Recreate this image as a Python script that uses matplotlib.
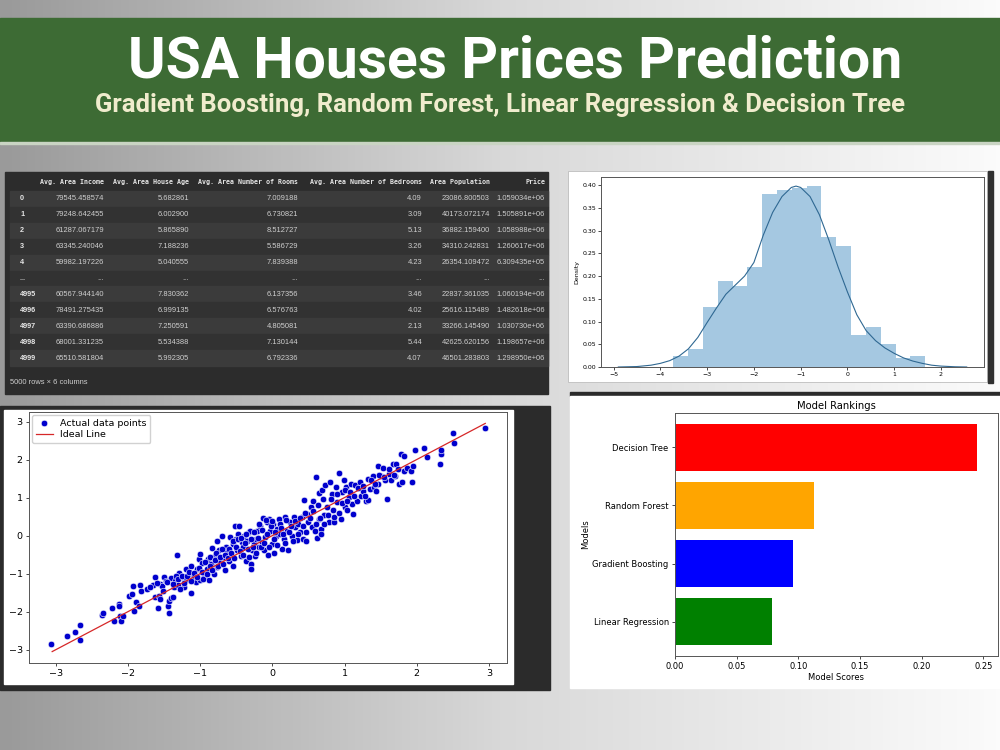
import numpy as np
import matplotlib
matplotlib.use('Agg')
import matplotlib.pyplot as plt
from matplotlib.patches import Rectangle

W, H = 1000, 750

# ── Text ──────────────────────────────────────────────────────────────────────
TITLE = "USA Houses Prices Prediction"
SUBTITLE = "Gradient Boosting, Random Forest, Linear Regression & Decision Tree"

# ── Table (df preview) ────────────────────────────────────────────────────────
tbl_cols = ["Avg. Area Income", "Avg. Area House Age", "Avg. Area Number of Rooms",
            "Avg. Area Number of Bedrooms", "Area Population", "Price"]
tbl_index = ["0", "1", "2", "3", "4", "...", "4995", "4996", "4997", "4998", "4999"]
income = [79545.458574, 79248.642455, 61287.067179, 63345.240046, 59982.197226, None,
          60567.944140, 78491.275435, 63390.686886, 68001.331235, 65510.581804]
house_age = [5.682861, 6.002900, 5.865890, 7.188236, 5.040555, None,
             7.830362, 6.999135, 7.250591, 5.534388, 5.992305]
rooms = [7.009188, 6.730821, 8.512727, 5.586729, 7.839388, None,
         6.137356, 6.576763, 4.805081, 7.130144, 6.792336]
bedrooms = [4.09, 3.09, 5.13, 3.26, 4.23, None, 3.46, 4.02, 2.13, 5.44, 4.07]
population = [23086.800503, 40173.072174, 36882.159400, 34310.242831, 26354.109472, None,
              22837.361035, 25616.115489, 33266.145490, 42625.620156, 46501.283803]
price = [1.059034e6, 1.505891e6, 1.058988e6, 1.260617e6, 6.309435e5, None,
         1.060194e6, 1.482618e6, 1.030730e6, 1.198657e6, 1.298950e6]
tbl_footer = "5000 rows × 6 columns"

# ── Histogram + KDE ───────────────────────────────────────────────────────────
hist_edges = [-3.72, -3.40, -3.09, -2.77, -2.45, -2.14, -1.82, -1.51, -1.19,
              -0.87, -0.56, -0.24, 0.08, 0.39, 0.71, 1.03, 1.34, 1.66]
hist_heights = [0.025, 0.040, 0.133, 0.190, 0.178, 0.220, 0.380, 0.390, 0.393,
                0.398, 0.285, 0.266, 0.070, 0.089, 0.050, 0.020, 0.025]
kde_x = [-4.9, -4.5, -4.2, -4.0, -3.8, -3.6, -3.4, -3.2, -3.0, -2.8, -2.6, -2.4,
         -2.2, -2.0, -1.8, -1.6, -1.4, -1.2, -1.1, -1.0, -0.8, -0.6, -0.4, -0.2,
         0.0, 0.2, 0.4, 0.6, 0.8, 1.0, 1.2, 1.4, 1.6, 1.8, 2.0, 2.3, 2.55]
kde_y = [0.000, 0.001, 0.004, 0.008, 0.014, 0.024, 0.040, 0.065, 0.098, 0.130, 0.160, 0.180,
         0.200, 0.230, 0.290, 0.340, 0.375, 0.395, 0.398, 0.395, 0.375, 0.335, 0.280, 0.220,
         0.165, 0.115, 0.080, 0.058, 0.042, 0.030, 0.020, 0.013, 0.008, 0.004, 0.002, 0.0005, 0.0]

# ── Actual vs predicted scatter ───────────────────────────────────────────────
pts = [
    (-3.07, -2.85), (-2.84, -2.63), (-2.74, -2.53), (-2.67, -2.35), (-2.66, -2.75),
    (-2.36, -2.08), (-2.35, -2.03), (-2.22, -1.90), (-2.19, -2.24), (-2.13, -1.80),
    (-2.12, -1.85), (-2.11, -2.12), (-2.09, -2.25), (-2.07, -2.12), (-1.99, -1.58),
    (-1.94, -1.54), (-1.93, -1.32), (-1.92, -1.97), (-1.89, -1.75), (-1.85, -1.86),
    (-1.83, -1.29), (-1.82, -1.46), (-1.73, -1.40), (-1.65, -1.30), (-1.63, -1.10),
    (-1.62, -1.61), (-1.57, -1.58), (-1.58, -1.91), (-1.55, -1.68), (-1.56, -1.27),
    (-1.53, -1.32), (-1.50, -1.08), (-1.47, -1.19), (-1.45, -1.85), (-1.43, -2.04),
    (-1.43, -1.73), (-1.41, -1.11), (-1.40, -1.63), (-1.37, -1.61), (-1.36, -1.34),
    (-1.35, -1.20), (-1.32, -0.50), (-1.31, -1.30), (-1.29, -0.99), (-1.25, -1.10),
    (-1.23, -1.34), (-1.20, -1.18), (-1.19, -0.88), (-1.16, -1.01), (-1.13, -1.52),
    (-1.12, -0.79), (-1.09, -1.10), (-1.06, -1.23), (-1.04, -0.88), (-1.02, -0.61),
    (-1.00, -1.18), (-1.00, -0.48), (-0.97, -0.73), (-0.95, -0.96), (-0.94, -1.10),
    (-0.91, -0.88), (-0.89, -0.61), (-0.88, -1.17), (-0.85, -0.75), (-0.83, -0.33),
    (-0.81, -1.01), (-0.79, -0.53), (-0.77, -0.83), (-0.76, -0.15), (-0.74, -0.39),
    (-0.72, -0.70), (-0.70, 0.00), (-0.68, -0.57), (-0.66, -0.90), (-0.64, -0.29),
    (-0.63, -0.44), (-0.60, -0.66), (-0.58, -0.03), (-0.55, -0.79), (-0.54, -0.22),
    (-0.52, 0.25), (-0.51, -0.09), (-0.49, -0.39), (-0.47, 0.04), (-0.46, 0.25),
    (-0.44, -0.53), (-0.42, -0.18), (-0.41, -0.31), (-0.39, 0.00), (-0.37, -0.66),
    (-0.35, -0.13), (-0.33, 0.09), (-0.31, 0.13), (-0.30, -0.75), (-0.29, -0.89),
    (-0.28, -0.39), (-0.26, -0.22), (-0.24, -0.53), (-0.22, -0.09), (-0.21, 0.13),
    (-0.19, -0.31), (-0.17, 0.26), (-0.15, -0.18), (-0.13, 0.46), (-0.12, -0.39),
    (-0.10, -0.04), (-0.08, 0.35), (-0.06, -0.52), (-0.05, 0.44), (-0.03, 0.13),
    (-0.005, -0.22), (0.01, 0.31), (0.03, -0.46), (0.05, 0.00), (0.06, 0.18),
    (0.09, 0.44), (0.11, 0.04), (0.13, -0.36), (0.16, -0.09), (0.18, 0.48),
    (0.20, 0.13), (0.22, -0.37), (0.25, 0.35), (0.27, 0.00), (0.30, 0.50),
    (0.32, 0.22), (0.34, -0.11), (0.36, 0.31), (0.39, 0.09), (0.41, 0.48),
    (0.43, -0.09), (0.44, 0.94), (0.46, -0.15), (0.48, 0.57), (0.50, 0.35),
    (0.53, 0.75), (0.55, 0.22), (0.57, 0.90), (0.59, 0.13), (0.61, 1.55),
    (0.62, -0.06), (0.64, 0.44), (0.65, 1.11), (0.67, 0.18), (0.68, 0.04),
    (0.69, 1.20), (0.71, 0.53), (0.73, 1.34), (0.76, 0.76), (0.78, 0.35),
    (0.80, 1.40), (0.82, 1.10), (0.84, 0.66), (0.86, 0.35), (0.88, 1.27),
    (0.90, 0.88), (0.93, 1.64), (0.95, 0.44), (0.96, 1.14), (0.99, 1.45),
    (1.01, 0.75), (1.02, 1.27), (1.04, 0.66), (1.06, 1.01), (1.09, 1.36),
    (1.11, 0.83), (1.12, 0.57), (1.15, 1.34), (1.17, 0.92), (1.21, 1.40),
    (1.23, 1.05), (1.26, 1.18), (1.30, 0.92), (1.32, 0.94), (1.33, 1.49),
    (1.35, 1.23), (1.39, 1.58), (1.41, 1.27), (1.44, 1.18), (1.46, 1.82),
    (1.47, 1.36), (1.50, 1.58), (1.53, 1.78), (1.56, 1.45), (1.59, 0.95),
    (1.61, 1.62), (1.64, 1.46), (1.67, 1.87), (1.70, 1.58), (1.72, 1.89),
    (1.75, 1.36), (1.78, 2.15), (1.79, 1.40), (1.82, 1.71), (1.83, 2.08),
    (1.87, 1.77), (1.92, 1.71), (1.93, 1.42), (1.95, 1.83), (1.97, 2.24),
    (2.10, 2.30), (2.14, 2.06), (2.32, 1.89), (2.33, 2.15), (2.33, 2.24),
    (2.50, 2.71), (2.52, 2.43), (2.95, 2.84),
    # denser band around the diagonal
    (-1.70, -1.35), (-1.60, -1.25), (-1.52, -1.45), (-1.46, -1.22), (-1.38, -1.28),
    (-1.34, -1.05), (-1.30, -1.15), (-1.28, -1.40), (-1.25, -1.05), (-1.22, -1.25),
    (-1.18, -1.05), (-1.15, -0.95), (-1.12, -1.20), (-1.08, -0.98), (-1.05, -1.10),
    (-1.02, -0.85), (-0.98, -0.95), (-0.96, -1.15), (-0.93, -0.70), (-0.90, -1.00),
    (-0.87, -0.80), (-0.86, -0.55), (-0.83, -0.90), (-0.80, -0.65), (-0.78, -0.45),
    (-0.75, -0.80), (-0.73, -0.55), (-0.70, -0.35), (-0.69, -0.75), (-0.66, -0.50),
    (-0.62, -0.60), (-0.60, -0.35), (-0.57, -0.45), (-0.55, -0.15), (-0.53, -0.60),
    (-0.50, -0.30), (-0.48, -0.10), (-0.45, -0.40), (-0.43, -0.05), (-0.40, -0.50),
    (-0.38, -0.20), (-0.36, 0.05), (-0.34, -0.35), (-0.32, -0.55), (-0.30, -0.10),
    (-0.27, -0.30), (-0.25, 0.10), (-0.23, -0.45), (-0.20, -0.05), (-0.18, 0.30),
    (-0.16, -0.30), (-0.14, 0.15), (-0.11, -0.20), (-0.09, 0.40), (-0.07, 0.05),
    (-0.04, -0.30), (-0.02, 0.25), (0.00, 0.38), (0.02, -0.10), (0.04, 0.10),
    (0.07, -0.25), (0.10, 0.30), (0.12, 0.20), (0.15, 0.05), (0.17, -0.20),
    (0.19, 0.40), (0.23, 0.10), (0.26, 0.25), (0.28, -0.15), (0.31, 0.38),
    (0.35, 0.05), (0.38, 0.45), (0.42, 0.25), (0.45, 0.60), (0.47, 0.10),
    (0.52, 0.45), (0.56, 0.65), (0.60, 0.30), (0.63, 0.80), (0.66, 0.45),
    (0.70, 0.95), (0.72, 0.30), (0.77, 0.55), (0.81, 0.95), (0.85, 0.50),
    (0.89, 1.10), (0.92, 0.60), (0.97, 0.85), (1.00, 1.20), (1.03, 0.90),
    (1.08, 1.15), (1.13, 1.05), (1.18, 1.25), (1.25, 1.30), (1.28, 1.05),
    (1.36, 1.45), (1.42, 1.35), (1.48, 1.60), (1.55, 1.55), (1.62, 1.75),
    (1.68, 1.60), (1.74, 1.75),
]
actual = [p[0] for p in pts]
predicted = [p[1] for p in pts]
ideal = [-3.05, 2.95]

# ── Model rankings ────────────────────────────────────────────────────────────
models = ["Linear Regression", "Gradient Boosting", "Random Forest", "Decision Tree"]
scores = [0.079, 0.096, 0.113, 0.245]
bar_colors = ["green", "blue", "orange", "red"]


def box(x0, y0, x1, y1):
    return [x0 / W, 1 - y1 / H, (x1 - x0) / W, (y1 - y0) / H]


fig = plt.figure(figsize=(10, 7.5), dpi=100)

# background canvas in pixel coords
bg = fig.add_axes([0, 0, 1, 1], zorder=0)
bg.set_xlim(0, W); bg.set_ylim(H, 0); bg.axis('off')
grad = np.linspace(0, 1, 256)[None, :]
bg.imshow(grad, cmap=matplotlib.colors.LinearSegmentedColormap.from_list(
    'g', ['#9a9a9a', '#d8d8d8', '#fbfbfb']), extent=[0, W, H, 0], aspect='auto')

# banner
bg.add_patch(Rectangle((0, 18), W, 124, color='#3d6b34'))
bg.add_patch(Rectangle((0, 142), W, 2, color='#c9d4c3'))
bg.text(515, 62, TITLE, ha='center', va='center', color='white',
        fontsize=41, fontweight='bold', family='Roboto')
bg.text(500, 105, SUBTITLE, ha='center', va='center', color='#f0eccd',
        fontsize=18.5, fontweight='bold', family='Roboto')

# ── table panel ───────────────────────────────────────────────────────────────
bg.add_patch(Rectangle((5, 172), 543, 222, color='#2c2c2c'))
row_y0, row_h = 199, 15.9
for i in range(len(tbl_index)):
    c = '#3b3b3b' if i % 2 == 0 else '#323232'
    bg.add_patch(Rectangle((10, row_y0 + i * row_h - row_h / 2), 538, row_h, color=c))

col_right = [104, 189, 298, 422, 490, 545]
fmts = ["{:.6f}", "{:.6f}", "{:.6f}", "{:.2f}", "{:.6f}", "{:e}"]
columns = [income, house_age, rooms, bedrooms, population, price]
for cx, name in zip(col_right, tbl_cols):
    bg.text(cx, 182, name, ha='right', va='center', color='#e6e6e6',
            fontsize=4.8, fontweight='bold', family='DejaVu Sans Mono')
for i, idx in enumerate(tbl_index):
    y = row_y0 + i * row_h
    bg.text(20, y, idx, ha='left', va='center', color='#e6e6e6',
            fontsize=5.2, fontweight='bold', family='Liberation Sans')
    for cx, vals, f in zip(col_right, columns, fmts):
        v = vals[i]
        s = "..." if v is None else f.format(v)
        bg.text(cx, y, s, ha='right', va='center', color='#cfcfcf',
                fontsize=5.4, family='Liberation Sans')
bg.text(10, 382, tbl_footer, ha='left', va='center', color='#cfcfcf',
        fontsize=5.4, family='Liberation Sans')

# ── histogram panel ───────────────────────────────────────────────────────────
bg.add_patch(Rectangle((568, 171), 419, 211, facecolor='white', edgecolor='#bdbdbd', lw=0.6))
bg.add_patch(Rectangle((988, 171), 5, 212, color='#303030'))
ax1 = fig.add_axes(box(601, 177, 984, 367), zorder=2)
ax1.bar(hist_edges[:-1], hist_heights, width=np.diff(hist_edges), align='edge',
        color='#1f77b4', alpha=0.4, linewidth=0)
ax1.plot(kde_x, kde_y, color='#2f6892', lw=0.8)
ax1.set_xlim(-5.27, 2.92); ax1.set_ylim(0, 0.418)
ax1.set_yticks(np.arange(0, 0.41, 0.05))
ax1.set_yticklabels([f"{t:.2f}" for t in np.arange(0, 0.41, 0.05)])
ax1.set_ylabel('Density', fontsize=4.5, labelpad=2)
ax1.tick_params(labelsize=4.5, length=2, width=0.5, pad=1.5)
for s in ax1.spines.values():
    s.set_linewidth(0.7); s.set_color('#555555')

# ── scatter panel ─────────────────────────────────────────────────────────────
bg.add_patch(Rectangle((0, 406), 550, 284, color='#2b2b2b'))
bg.add_patch(Rectangle((4, 410), 509, 274, color='white'))
ax2 = fig.add_axes(box(29, 412, 507, 663), zorder=2)
ax2.scatter(actual, predicted, s=22, color='mediumblue', edgecolors='white',
            linewidths=0.4, label='Actual data points', zorder=2)
ax2.plot(ideal, ideal, color='#d62728', lw=0.9, label='Ideal Line', zorder=3)
ax2.set_xticks(range(-3, 4)); ax2.set_yticks(range(-3, 4))
ax2.tick_params(labelsize=6.8, length=2.5, width=0.5, pad=2)
for s in ax2.spines.values():
    s.set_linewidth(0.7); s.set_color('#555555')
ax2.legend(loc='upper left', fontsize=6.8, borderaxespad=0.3, handlelength=1.8,
           labelspacing=0.3, framealpha=0.9)

# ── rankings panel ────────────────────────────────────────────────────────────
bg.add_patch(Rectangle((570, 392), 430, 4, color='#2b2b2b'))
bg.add_patch(Rectangle((570, 396), 430, 292, color='white'))
ax3 = fig.add_axes(box(675, 413, 998, 656), zorder=2)
ax3.barh(models, scores, color=bar_colors)
ax3.set_xlim(0, 0.262)
ax3.set_title('Model Rankings', fontsize=7.2, pad=3)
ax3.set_xlabel('Model Scores', fontsize=6, labelpad=1)
ax3.set_ylabel('Models', fontsize=6, labelpad=2)
ax3.set_xticks([0, 0.05, 0.10, 0.15, 0.20, 0.25])
ax3.set_xticklabels(["0.00", "0.05", "0.10", "0.15", "0.20", "0.25"])
ax3.tick_params(labelsize=6, length=2.5, width=0.5, pad=2)
for s in ax3.spines.values():
    s.set_linewidth(0.7); s.set_color('#555555')

fig.savefig('out.png', dpi=100)
